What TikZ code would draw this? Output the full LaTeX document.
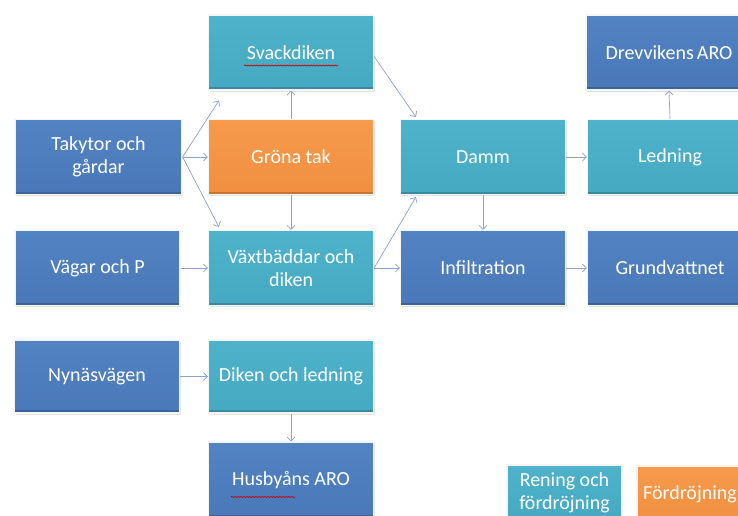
\documentclass[tikz,border=0pt]{standalone}
\usepackage{fontspec}
\setmainfont{Carlito}
\usetikzlibrary{arrows.meta,calc,shadows,decorations.pathmorphing}
\definecolor{dkblue}{HTML}{4A78B8}
\definecolor{dkblueT}{HTML}{5283C2}
\definecolor{teal}{HTML}{46A9C2}
\definecolor{tealT}{HTML}{4FB2CB}
\definecolor{orng}{HTML}{F08F40}
\definecolor{orngT}{HTML}{F79A4C}
\definecolor{conn}{HTML}{8AA3C6}
\tikzset{
  box/.style={rectangle, minimum width=165pt, minimum height=75pt, inner sep=2pt,
    align=center, text=white, font=\fontsize{20}{22.5}\selectfont,
    draw=white!92!gray, line width=1.2pt,
    drop shadow={shadow xshift=1.2pt, shadow yshift=-1.6pt, opacity=0.22},
    path picture={\fill[black,opacity=0.18] (path picture bounding box.south west) rectangle ([yshift=3pt]path picture bounding box.south east);}},
  bluebox/.style={box, top color=dkblueT, bottom color=dkblue},
  tealbox/.style={box, top color=tealT, bottom color=teal},
  orbox/.style={box, top color=orngT, bottom color=orng},
  conn/.style={draw=conn, line width=0.7pt, -{Straight Barb[length=4pt,width=8pt]}},
  squig/.style={draw=red!80!black, line width=0.7pt, decorate,
    decoration={snake, segment length=3pt, amplitude=0.5pt}}
}
\begin{document}
\begin{tikzpicture}[x=1pt,y=-1pt]
\useasboundingbox (0,0) rectangle (738,516);
\fill[white] (0,0) rectangle (738,516);
\clip (0,0) rectangle (738,516);
% row 1
\node[tealbox] (svack) at (291,52.5) {Svackdiken};
\node[bluebox, minimum width=166pt] (drev) at (669,52.5) {Drevvikens\hspace{-1.5pt} ARO};
% row 2
\node[bluebox, minimum width=167pt] (taky) at (98.5,157) {Takytor och\\gårdar};
\node[orbox] (gron) at (291,157) {Gröna tak};
\node[tealbox] (damm) at (483,157) {Damm};
\node[tealbox] (led) at (670,157) {Ledning};
% row 3
\node[bluebox] (vag) at (97.5,268) {Vägar och P};
\node[tealbox] (vaxt) at (291,268) {Växtbäddar och\\diken};
\node[bluebox] (infil) at (483,268) {Infiltration};
\node[bluebox] (grund) at (670,268) {Grundvattnet};
% row 4
\node[bluebox, minimum height=73pt] (nyn) at (97,376.5) {Nynäsvägen};
\node[tealbox, minimum height=73pt] (dikl) at (291,376.5) {Diken och ledning};
% row 5
\node[bluebox, minimum height=76pt] (husb) at (291,480) {Husbyåns ARO};
% legend
\node[tealbox, minimum width=115pt, minimum height=56pt, inner sep=1pt] (leg1) at (564.5,493) {Rening och\\fördröjning};
\node[orbox, minimum width=106pt, minimum height=56pt] (leg2) at (690,494) {Fördröjning};
% spell-check squiggles
\draw[squig] ($(svack.center)+(-47,13)$) -- ($(svack.center)+(47,13)$);
\draw[squig] ($(husb.center)+(-60,17)$) -- ($(husb.center)+(4,17)$);
% connectors
\draw[conn] (taky.east) -- ($(svack.south west)+(11,10)$);
\draw[conn] (taky.east) -- (gron.west);
\draw[conn] (taky.east) -- ($(vaxt.north west)+(11,-3)$);
\draw[conn] (gron.north) -- (svack.south);
\draw[conn] (gron.south) -- (vaxt.north);
\draw[conn] (vag.east) -- (vaxt.west);
\draw[conn] ($(svack.east)+(0,4)$) -- ($(damm.north west)+(16,-2)$);
\draw[conn] (vaxt.east) -- ($(damm.south west)+(16,2)$);
\draw[conn] (vaxt.east) -- (infil.west);
\draw[conn] (damm.south) -- (infil.north);
\draw[conn] (damm.east) -- (led.west);
\draw[conn] (led.north) -- (drev.south);
\draw[conn] (infil.east) -- (grund.west);
\draw[conn] (nyn.east) -- (dikl.west);
\draw[conn] (dikl.south) -- (husb.north);
\end{tikzpicture}
\end{document}
